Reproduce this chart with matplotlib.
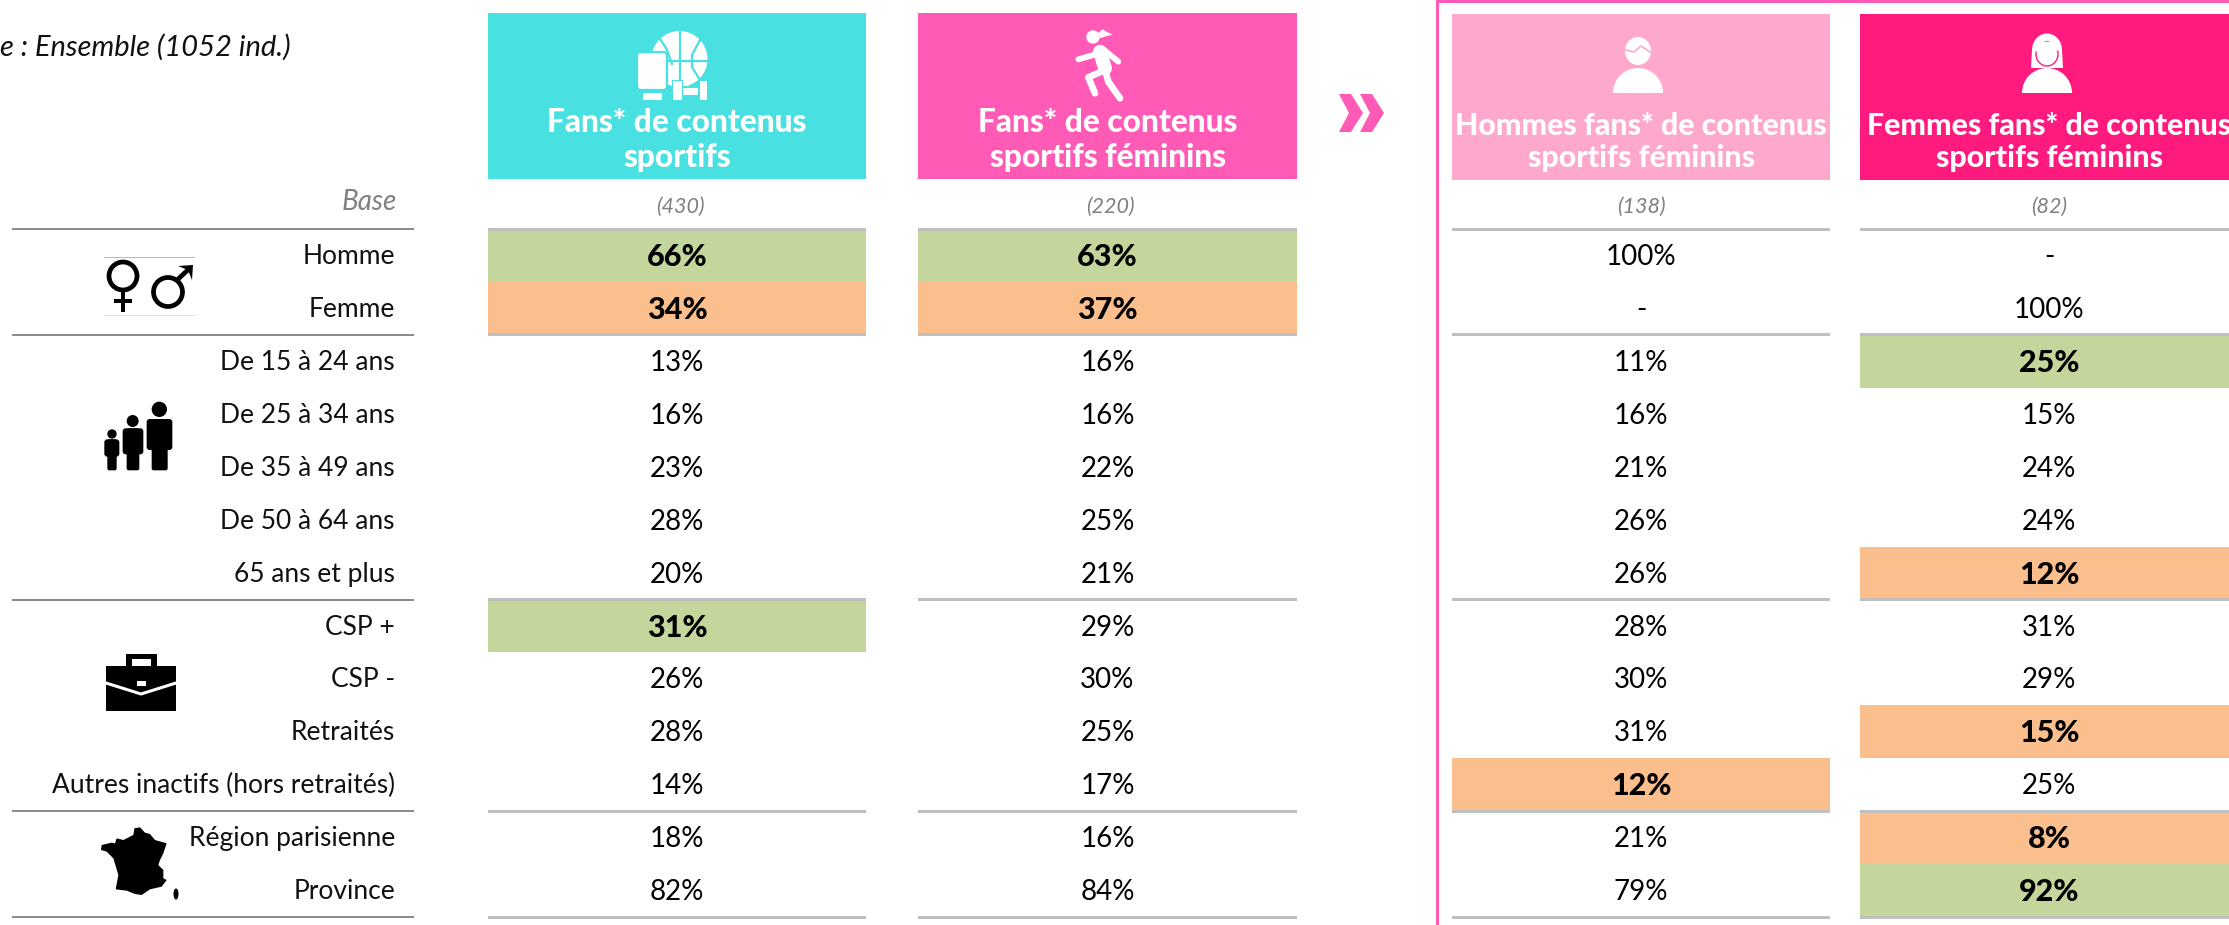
import numpy as np
import matplotlib
matplotlib.use("Agg")
import matplotlib.pyplot as plt
from matplotlib.patches import Rectangle, Ellipse, Polygon, Circle, Wedge, FancyBboxPatch

W, H = 2229, 925
FONT = "Lato"
plt.rcParams['font.family'] = [FONT, 'DejaVu Sans']

row_labels = ["Homme", "Femme", "De 15 à 24 ans", "De 25 à 34 ans", "De 35 à 49 ans",
              "De 50 à 64 ans", "65 ans et plus", "CSP +", "CSP -", "Retraités",
              "Autres inactifs (hors retraités)", "Région parisienne", "Province"]
headers = [["Fans* de contenus", "sportifs"],
           ["Fans* de contenus", "sportifs féminins"],
           ["Hommes fans* de contenus", "sportifs féminins"],
           ["Femmes fans* de contenus", "sportifs féminins"]]
bases = ["(430)", "(220)", "(138)", "(82)"]
col_fans = ["66%", "34%", "13%", "16%", "23%", "28%", "20%", "31%", "26%", "28%", "14%", "18%", "82%"]
col_fem = ["63%", "37%", "16%", "16%", "22%", "25%", "21%", "29%", "30%", "25%", "17%", "16%", "84%"]
col_men = ["100%", "-", "11%", "16%", "21%", "26%", "26%", "28%", "30%", "31%", "12%", "21%", "79%"]
col_wom = ["-", "100%", "25%", "15%", "24%", "24%", "12%", "31%", "29%", "15%", "25%", "8%", "92%"]
flags_fans = "GO.....G....."
flags_fem = "GO..........."
flags_men = "..........O.."
flags_wom = "..G...O..O.OG"

columns = [col_fans, col_fem, col_men, col_wom]
flags = [flags_fans, flags_fem, flags_men, flags_wom]
group_ends = [0, 2, 7, 11, 13]

col_x = [(488, 866), (918, 1297), (1452, 1830), (1860, 2238)]
head_y = [(13, 179), (13, 179), (14, 180), (14, 180)]
head_col = ["#48E0E0", "#FF5AB5", "#FFA8CE", "#FF1A7E"]
head_txt_y = [(123, 158), (123, 158), (126, 158), (126, 158)]
head_fs = [22.8, 22.8, 21.8, 21.8]
base_cx = [680, 1110, 1641, 2049]
fill = {"G": "#C5D69C", "O": "#FBBF8E"}
TOP, RH = 229.0, 52.93

fig = plt.figure(figsize=(W / 100, H / 100), dpi=100)
ax = fig.add_axes([0, 0, 1, 1])
ax.set_xlim(0, W); ax.set_ylim(H, 0); ax.axis("off")

def rect(x0, y0, x1, y1, c, z=1):
    ax.add_patch(Rectangle((x0, y0), x1 - x0, y1 - y0, fc=c, ec="none", zorder=z))

# frame and chevrons
rect(1436, 0, 1439, H, "#FF5AB5")
rect(1436, 0, W, 2.5, "#FF5AB5")
for dx in (0, 21):
    ax.add_patch(Polygon([(1339 + dx, 94), (1351 + dx, 94), (1363 + dx, 113), (1351 + dx, 132),
                          (1339 + dx, 132), (1349 + dx, 113)], fc="#FF5AB5", ec="none"))

# title and base label
ax.text(291, 47, "Base : Ensemble (1052 ind.)", ha="right", va="center", style="italic",
        fontsize=21, color="#111111")
ax.text(397, 202, "Base", ha="right", va="center", style="italic", fontsize=20, color="#808080")

# columns
for j, (x, vals, fl) in enumerate(zip(col_x, columns, flags)):
    rect(x[0], head_y[j][0], x[1], head_y[j][1], head_col[j])
    cx = sum(x) / 2
    for line, y in zip(headers[j], head_txt_y[j]):
        ax.text(cx, y, line, ha="center", va="center", color="white", fontweight="black",
                fontsize=head_fs[j], zorder=6)
    ax.text(base_cx[j], 207, bases[j], ha="center", va="center", style="italic", fontsize=15.5, color="#808080")
    for i, (v, f) in enumerate(zip(vals, fl)):
        y0 = TOP + i * RH
        if f in fill:
            rect(x[0], y0, x[1], y0 + RH, fill[f], 1)
        ax.text(cx, y0 + 28, v, ha="center", va="center", fontsize=22 if f in fill else 20,
                fontweight="black" if f in fill else "normal", color="black", zorder=4)
    for g in group_ends:
        rect(x[0], TOP + g * RH - 1.5, x[1], TOP + g * RH + 1.5, "#BFBFBF", 3)

# row labels and left rules
for i, lab in enumerate(row_labels):
    ax.text(395, TOP + i * RH + 27.5, lab, ha="right", va="center", fontsize=19, color="#111111")
for g in group_ends:
    rect(12, TOP + g * RH - 1, 414, TOP + g * RH + 1, "#8C8C8C", 3)

# ---- decorative icons ----
def zoomed(pts, ox, oy):
    return [(ox + a / 3, oy + b / 3) for a, b in pts]

# gender
rect(104, 257, 195, 258, "#BBBBBB"); rect(104, 314.5, 195, 315.5, "#DDDDDD")
ax.add_patch(Circle((123, 276), 14, fc="none", ec="black", lw=3.4))
rect(121, 290, 125, 312, "black"); rect(114, 299, 132, 303, "black")
ax.add_patch(Circle((168, 292), 14.5, fc="none", ec="black", lw=3.4))
ax.plot([176, 190], [281, 268], color="black", lw=3.4, solid_capstyle="butt")
ax.add_patch(Polygon([(178, 266), (193, 265), (192, 280), (188, 270)], fc="black", ec="none"))

# people
def rbox(x0, y0, x1, y1, r=3):
    ax.add_patch(FancyBboxPatch((x0 + r, y0 + r), x1 - x0 - 2 * r, y1 - y0 - 2 * r,
                                boxstyle=f"round,pad={r}", fc="black", ec="none"))
for hx, hy, hr, bx0, bx1, by0, by1, lx0, lx1 in [
        (51, 117, 14, 28, 73, 133, 185, 37, 65),
        (113, 78, 18, 83, 145, 100, 178, 95, 133),
        (193, 43, 23, 155, 232, 72, 165, 170, 218)]:
    ax.add_patch(Circle((95 + hx / 3, 395 + hy / 3), hr / 3, fc="black", ec="none"))
    rbox(95 + bx0 / 3, 395 + by0 / 3, 95 + bx1 / 3, 395 + by1 / 3)
    rbox(95 + lx0 / 3, 395 + by0 / 3, 95 + lx1 / 3, 395 + 226 / 3, 2)

# briefcase
rect(106, 666, 176, 711, "black")
rect(126, 654, 157, 667, "black"); rect(132, 659, 151, 666, "white", 2)
ax.plot([106, 141, 176], [683, 694, 683], color="white", lw=2.2, zorder=3)
rect(137, 681, 146, 686, "white", 3)

# France
france = [(118, 25), (135, 22), (150, 38), (165, 42), (180, 60), (215, 70), (205, 100), (195, 120), (190, 135),
          (205, 150), (205, 175), (215, 180), (200, 200), (165, 208), (140, 225), (120, 222), (95, 212),
          (62, 208), (70, 165), (55, 115), (35, 95), (18, 90), (20, 75), (50, 68), (60, 70), (65, 55),
          (85, 60), (115, 45)]
ax.add_patch(Polygon(zoomed(france, 95, 820), fc="black", ec="none"))
ax.add_patch(Ellipse((95 + 243 / 3, 820 + 222 / 3), 5, 11, fc="black", ec="none"))

# header icons, white
def wh(p): ax.add_patch(p)
TEAL = "#48E0E0"
wh(Circle((679.5, 59), 28, fc="white", ec="none", zorder=2))
ax.plot([652, 708], [61, 61], color=TEAL, lw=1.6, zorder=3)
ax.plot([679.5, 679.5], [30, 88], color=TEAL, lw=1.6, zorder=3)
ax.plot([659, 667, 672], [37, 50, 64], color=TEAL, lw=1.6, zorder=3)
ax.plot([700, 692, 692, 700], [40, 55, 67, 80], color=TEAL, lw=1.6, zorder=3)
wh(FancyBboxPatch((641, 56), 22, 30, boxstyle="round,pad=4", fc="white", ec=TEAL, lw=1.6, zorder=4))
rect(643, 93, 662, 100, "white", 4)
rect(672, 80, 683, 101, TEAL, 4); rect(699, 80, 708, 101, TEAL, 4); rect(683, 86, 699, 96, TEAL, 4)
rect(673, 81, 682, 100, "white", 5); rect(700, 81, 707, 100, "white", 5); rect(683, 88, 698, 95, "white", 5)

# runner
def stroke(pts, lw):
    xy = np.array(zoomed(pts, 1060, 20))
    ax.plot(xy[:, 0], xy[:, 1], color="white", lw=lw, solid_capstyle="round", solid_joinstyle="round", zorder=3)
ax.add_patch(Circle((1093, 37), 6.7, fc="white", ec="none", zorder=3))
wh(Polygon(zoomed([(115, 38), (128, 28), (145, 38), (158, 44), (140, 48), (120, 55)], 1060, 20),
           fc="white", ec="none", zorder=3))
stroke([(55, 118), (100, 105), (122, 90)], 4.2)
stroke([(130, 88), (175, 125)], 4.2)
stroke([(120, 95), (135, 145)], 10)
stroke([(135, 150), (85, 172), (105, 220)], 4.8)
stroke([(135, 150), (145, 185), (180, 235)], 4.8)

# man and woman
def bust(cx):
    wh(Wedge((cx, 93), 25, 180, 360, fc="white", ec="none", zorder=3))
bust(1638)
wh(Ellipse((1638, 51), 26, 28, fc="white", ec="none", zorder=4))
ax.plot([1626, 1634, 1641, 1650], [50, 52, 46, 52], color="#FFA8CE", lw=1.2, zorder=5)
bust(2047)
wh(Ellipse((2047, 50), 30, 33, fc="white", ec="none", zorder=4))
wh(Polygon([(2032, 50), (2062, 50), (2063, 68), (2031, 68)], fc="white", ec="none", zorder=4))
wh(Ellipse((2047, 54), 22, 24, fc="white", ec="#FF1A7E", lw=1, zorder=5))
wh(Polygon([(2034, 42), (2060, 42), (2058, 51), (2050, 46), (2036, 52)], fc="white", ec="none", zorder=6))

fig.savefig("out.png", dpi=100)
